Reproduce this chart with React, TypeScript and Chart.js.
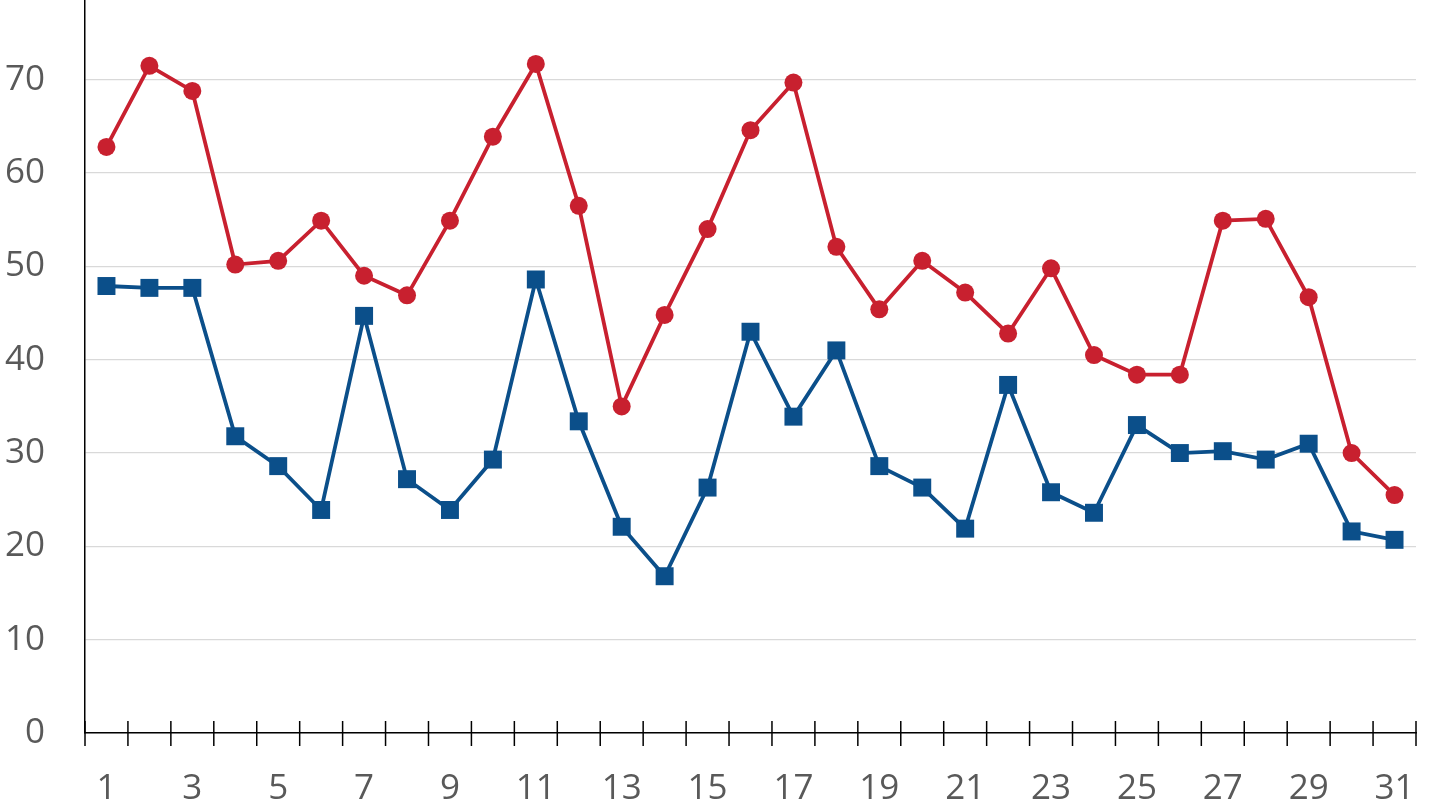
import React, { useEffect, useRef } from "react";
import { Chart, registerables } from "chart.js";

Chart.register(...registerables);

const categories: string[] = Array.from({ length: 31 }, (_, i) => String(i + 1));

const redSeries: number[] = [
  62.8, 71.5, 68.8, 50.2, 50.6, 54.9, 49.0, 46.9, 54.9, 63.9, 71.7, 56.5, 35.0, 44.8, 54.0, 64.6,
  69.7, 52.1, 45.4, 50.6, 47.2, 42.8, 49.8, 40.5, 38.4, 38.4, 54.9, 55.1, 46.7, 30.0, 25.5,
];

const blueSeries: number[] = [
  47.9, 47.7, 47.7, 31.8, 28.6, 23.9, 44.7, 27.2, 23.9, 29.3, 48.6, 33.4, 22.1, 16.8, 26.3, 43.0,
  33.9, 41.0, 28.6, 26.3, 21.9, 37.3, 25.8, 23.6, 33.0, 30.0, 30.2, 29.3, 31.0, 21.6, 20.7,
];

const yTickValues: number[] = [0, 10, 20, 30, 40, 50, 60, 70];

const RED = "#C8202F";
const BLUE = "#0B4F8A";
const TEXT = "#595959";
const FONT = "'Open Sans', 'Noto Sans', sans-serif";

const crossTicks = {
  id: "crossTicks",
  afterDraw(chart: any) {
    const x = chart.scales.x;
    const ctx = chart.ctx;
    const bottom = chart.chartArea.bottom;
    ctx.save();
    ctx.strokeStyle = "#000";
    ctx.lineWidth = 1.5;
    for (let i = 0; i <= categories.length; i++) {
      const px = x.getPixelForValue(i - 0.5);
      ctx.beginPath();
      ctx.moveTo(px, bottom - 12);
      ctx.lineTo(px, bottom + 13);
      ctx.stroke();
    }
    ctx.restore();
  },
};

export default function App() {
  const ref = useRef<HTMLCanvasElement | null>(null);

  useEffect(() => {
    if (!ref.current) return;
    const chart = new Chart(ref.current, {
      type: "line",
      data: {
        labels: categories,
        datasets: [
          {
            label: "Red",
            data: redSeries,
            borderColor: RED,
            backgroundColor: RED,
            borderWidth: 3.8,
            pointStyle: "circle",
            pointRadius: 9,
            pointBorderWidth: 0,
            pointBackgroundColor: RED,
            tension: 0,
            clip: false,
          },
          {
            label: "Blue",
            data: blueSeries,
            borderColor: BLUE,
            backgroundColor: BLUE,
            borderWidth: 3.8,
            pointStyle: "rect",
            pointRadius: 12.7,
            pointBorderWidth: 0,
            pointBackgroundColor: BLUE,
            tension: 0,
            clip: false,
          },
        ],
      },
      options: {
        animation: false,
        responsive: false,
        maintainAspectRatio: false,
        layout: { autoPadding: false, padding: { top: 0, right: 13, left: 0, bottom: 0 } },
        plugins: {
          legend: { display: false },
          tooltip: { enabled: false },
        },
        scales: {
          x: {
            type: "category",
            offset: true,
            grid: { display: false },
            border: { display: true, color: "#000", width: 1.5 },
            ticks: {
              autoSkip: false,
              maxRotation: 0,
              padding: 27,
              color: TEXT,
              font: { family: FONT, size: 35 },
              callback: (_v: any, i: number) => (i % 2 === 0 ? categories[i] : ""),
            },
            afterFit: (s: any) => {
              s.height = 73;
              s.paddingLeft = 0;
              s.paddingRight = 0;
              s.paddingTop = 0;
              s.paddingBottom = 0;
            },
          },
          y: {
            min: 0,
            max: 78.55,
            grid: { color: "#D9D9D9", lineWidth: 1.3, drawTicks: false },
            border: { display: true, color: "#000", width: 1.5 },
            ticks: {
              stepSize: 10,
              includeBounds: false,
              padding: 40,
              color: TEXT,
              font: { family: FONT, size: 35 },
              callback: (v: any) => (yTickValues.includes(Number(v)) ? String(v) : ""),
            },
            afterFit: (s: any) => {
              s.width = 85;
              s.paddingLeft = 0;
              s.paddingRight = 0;
              s.paddingTop = 0;
              s.paddingBottom = 0;
            },
          },
        },
      },
      plugins: [crossTicks],
    });
    return () => chart.destroy();
  }, []);

  return (
    <div style={{ position: "fixed", left: 0, top: 0, width: 1429, height: 806, background: "#fff" }}>
      <canvas ref={ref} width={1429} height={806} style={{ width: 1429, height: 806, display: "block" }} />
    </div>
  );
}
